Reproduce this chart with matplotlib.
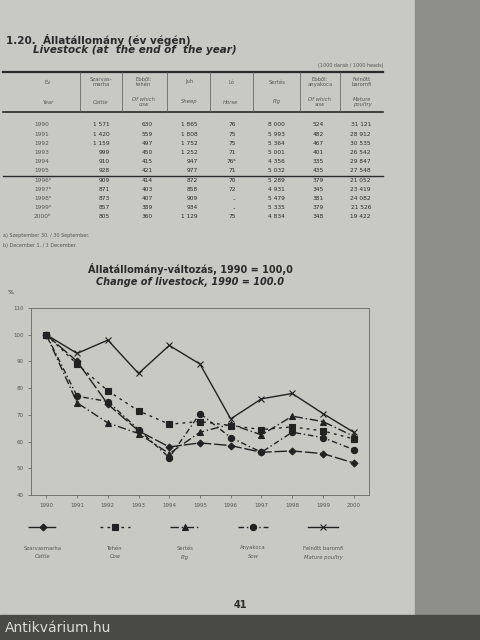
import matplotlib.pyplot as plt
from matplotlib.patches import Rectangle
from matplotlib.lines import Line2D

# Táblázat adatai (1000 darab)
evek_tabla = ['1990', '1991', '1992', '1993', '1994', '1995',
              '1996ᵃ', '1997ᵃ', '1998ᵃ', '1999ᵃ', '2000ᵇ']
szarvasmarha_t = ['1 571', '1 420', '1 159', '999', '910', '928', '909', '871', '873', '857', '805']
tehen_t = ['630', '559', '497', '450', '415', '421', '414', '403', '407', '389', '360']
juh_t = ['1 865', '1 808', '1 752', '1 252', '947', '977', '872', '858', '909', '934', '1 129']
lo_t = ['76', '75', '75', '71', '76ᵃ', '71', '70', '72', '..', '..', '75']
sertes_t = ['8 000', '5 993', '5 364', '5 001', '4 356', '5 032', '5 289', '4 931', '5 479', '5 335', '4 834']
anyakoca_t = ['524', '482', '467', '401', '335', '435', '379', '345', '381', '379', '348']
baromfi_t = ['31 121', '28 912', '30 535', '26 542', '29 847', '27 548', '21 052', '23 419', '24 082', '21 526', '19 422']

# Grafikon adatai (1990 = 100)
evek = ['1990', '1991', '1992', '1993', '1994', '1995', '1996', '1997', '1998', '1999', '2000']
szarvasmarha = [100, 90, 74, 64, 58, 59.5, 58.5, 56, 56.5, 55.5, 52]
tehen = [100, 89, 79, 71.5, 66.5, 67.5, 66, 64.5, 65.5, 64, 61]
sertes = [100, 74.5, 67, 63, 55.5, 63.5, 66.5, 62.5, 69.5, 67.5, 62]
anyakoca = [100, 77, 75, 64.5, 54, 70.5, 61.5, 56, 63.5, 61.5, 57]
baromfi = [100, 93, 98, 85.5, 96, 89, 68.5, 76, 78, 70.5, 63.5]

W, H = 480, 640
fig = plt.figure(figsize=(4.8, 6.4), dpi=100, facecolor='#c9c9c3')
bg = fig.add_axes([0, 0, 1, 1], zorder=-1)
bg.set_xlim(0, W)
bg.set_ylim(H, 0)
bg.axis('off')
bg.add_patch(Rectangle((415, 0), 65, H, color='#8e8e88'))
bg.add_patch(Rectangle((0, 615), W, 25, color='#4a4a44'))
bg.text(5, 628, 'Antikvárium.hu', color='white', fontsize=10, va='center', alpha=0.8)

ink = '#2a2a2a'
faint = '#555555'
bg.text(6, 40, '1.20.  Állatállomány (év végén)', fontsize=7.5, fontweight='bold', color=ink, va='center')
bg.text(33, 50, 'Livestock (at  the end of  the year)', fontsize=7.5, fontweight='bold',
        style='italic', color=ink, va='center')
bg.text(383, 65, '(1000 darab / 1000 heads)', fontsize=3.5, color=faint, ha='right', va='center')

# Táblázat vonalai
bg.plot([3, 383], [72, 72], color=ink, lw=1.6)
bg.plot([3, 383], [112, 112], color=ink, lw=1.2)
bg.plot([3, 383], [176, 176], color=ink, lw=1.0)
for x in [80, 122, 167, 210, 253, 300, 340]:
    bg.plot([x, x], [72, 112], color=faint, lw=0.5)

fejlec = [('Év', 'Year'), ('Szarvas-\nmarha', 'Cattle'), ('Ebből:\ntehén', 'Of which\ncow'),
          ('Juh', 'Sheep'), ('Ló', 'Horse'), ('Sertés', 'Pig'),
          ('Ebből:\nanyakoca', 'Of which\nsow'), ('Felnőtt\nbaromfi', 'Mature\npoultry')]
fej_x = [48, 101, 144, 189, 231, 277, 320, 362]
for (hu, en), x in zip(fejlec, fej_x):
    bg.text(x, 82, hu, fontsize=3.8, color=faint, ha='center', va='center')
    bg.text(x, 102, en, fontsize=3.8, color=faint, ha='center', va='center', style='italic')

oszlopok = [szarvasmarha_t, tehen_t, juh_t, lo_t, sertes_t, anyakoca_t, baromfi_t]
osz_x = [110, 153, 198, 236, 285, 324, 371]
for i, ev in enumerate(evek_tabla):
    y = 125 + i * 9.2
    bg.text(34, y, ev, fontsize=4.2, color=faint, va='center')
    for col, x in zip(oszlopok, osz_x):
        bg.text(x, y, col[i], fontsize=4.2, color=ink, ha='right', va='center')
bg.text(3, 236, 'a) Szeptember 30. / 30 September.', fontsize=3.5, color=faint, va='center')
bg.text(3, 246, 'b) December 1. / 1 December.', fontsize=3.5, color=faint, va='center')

bg.text(190, 269, 'Állatállomány-változás, 1990 = 100,0', fontsize=7, fontweight='bold',
        color=ink, ha='center', va='center')
bg.text(190, 282, 'Change of livestock, 1990 = 100.0', fontsize=7, fontweight='bold',
        style='italic', color=ink, ha='center', va='center')
bg.text(8, 292, '%', fontsize=4.5, color=ink, va='center')
bg.text(240, 605, '41', fontsize=7, fontweight='bold', color=ink, ha='center', va='center')

# Grafikon
ax = fig.add_axes([31 / W, 1 - 495 / H, 338 / W, 187 / H])
ax.set_facecolor('none')
x = range(len(evek))
sorozatok = [
    (szarvasmarha, 'D', (0, (9, 2)), 3.5),
    (tehen, 's', (0, (2, 3)), 4),
    (sertes, '^', (0, (6, 2, 1, 2)), 4),
    (anyakoca, 'o', (0, (4, 2, 1, 2)), 4.5),
    (baromfi, 'x', '-', 5),
]
for ertek, m, ls, ms in sorozatok:
    ax.plot(x, ertek, color='#222222', lw=1.0, linestyle=ls, marker=m, markersize=ms,
            markeredgewidth=0.8)
ax.set_ylim(40, 110)
ax.set_xlim(-0.5, 10.5)
ax.set_yticks(range(40, 111, 10))
ax.set_xticks(list(x))
ax.set_xticklabels(evek)
ax.tick_params(labelsize=4, colors=faint, length=2, width=0.5)
for s in ax.spines.values():
    s.set_color('#666666')
    s.set_linewidth(0.6)

# Jelmagyarázat
nevek = [('Szarvasmarha', 'Cattle'), ('Tehén', 'Cow'), ('Sertés', 'Pig'),
         ('Anyakoca', 'Sow'), ('Felnőtt baromfi', 'Mature poultry')]
leg_x = [43, 115, 185, 253, 323]
for (ertek, m, ls, ms), (hu, en), lx in zip(sorozatok, nevek, leg_x):
    bg.add_line(Line2D([lx - 15, lx + 15], [527, 527], color='#222222', lw=1.0, linestyle=ls))
    bg.plot([lx], [527], marker=m, color='#222222', markersize=ms, markeredgewidth=0.8)
    bg.text(lx, 548, hu, fontsize=3.8, color=faint, ha='center', va='center')
    bg.text(lx, 557, en, fontsize=3.8, color=faint, ha='center', va='center', style='italic')

fig.savefig('out.png', dpi=100, facecolor=fig.get_facecolor())
